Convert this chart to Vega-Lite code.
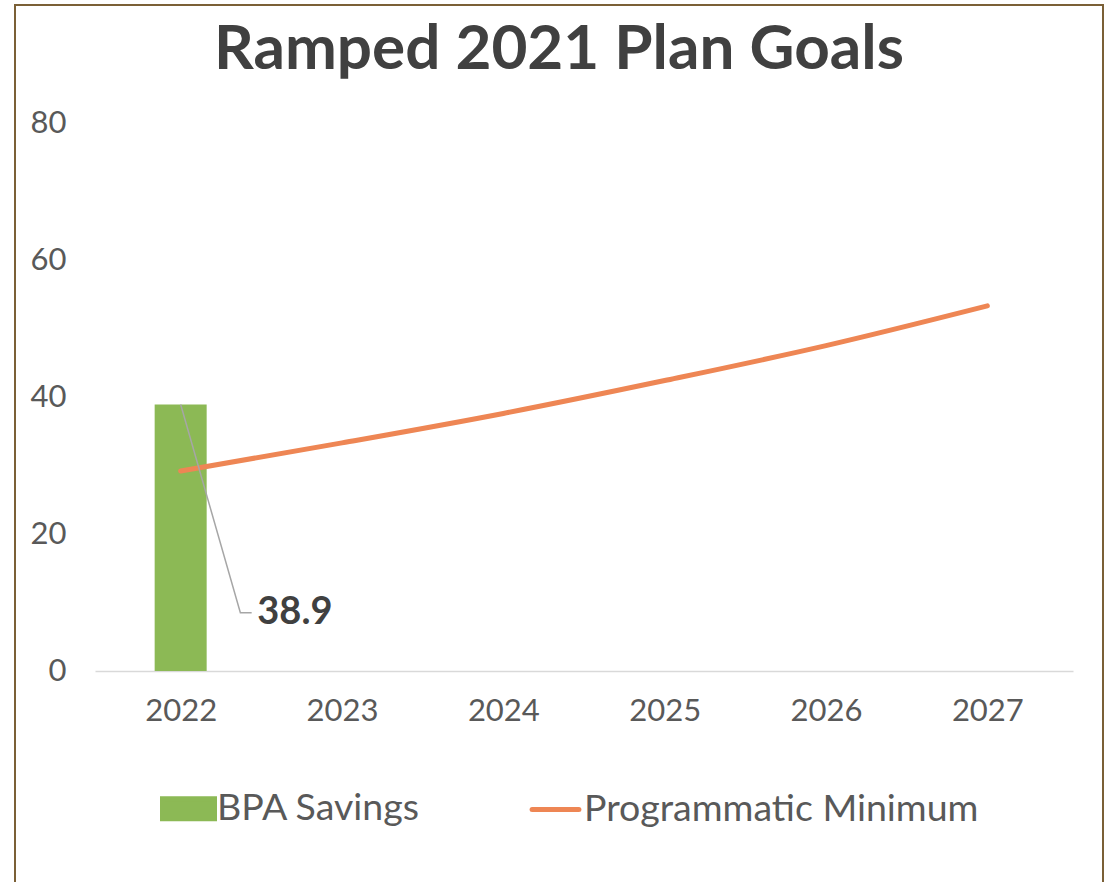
{
  "$schema": "https://vega.github.io/schema/vega-lite/v6.json",
  "width": 1088,
  "height": 880,
  "autosize": {"type": "none"},
  "padding": {"left": 15, "top": 5, "right": 6, "bottom": -3},
  "background": "#ffffff",
  "title": {
    "text": "Ramped 2021 Plan Goals",
    "font": "Lato",
    "fontSize": 62,
    "fontWeight": "bold",
    "color": "#404040",
    "anchor": "middle",
    "frame": "group",
    "baseline": "alphabetic",
    "offset": 0,
    "dy": 126
  },
  "datasets": {
    "bars": [{"year": 2022, "value": 38.9, "series": "BPA Savings"}],
    "line": [
      {"year": 2022, "value": 29.2, "series": "Programmatic Minimum"},
      {"year": 2023, "value": 33.3, "series": "Programmatic Minimum"},
      {"year": 2024, "value": 37.6, "series": "Programmatic Minimum"},
      {"year": 2025, "value": 42.4, "series": "Programmatic Minimum"},
      {"year": 2026, "value": 47.5, "series": "Programmatic Minimum"},
      {"year": 2027, "value": 53.3, "series": "Programmatic Minimum"}
    ],
    "leader": [
      {"year": 2022, "value": 38.9, "step": 1},
      {"year": 2022.37, "value": 8.5, "step": 2},
      {"year": 2022.44, "value": 8.5, "step": 3}
    ],
    "label": [{"year": 2022.475, "value": 8.4, "text": "38.9"}]
  },
  "encoding": {
    "x": {
      "field": "year",
      "type": "quantitative",
      "scale": {"type": "linear", "domain": [2021.5, 2027.5], "range": [80, 1058], "nice": false, "zero": false},
      "axis": {
        "title": null,
        "offset": -214,
        "values": [2022, 2023, 2024, 2025, 2026, 2027],
        "format": "d",
        "grid": false,
        "ticks": false,
        "domain": true,
        "domainColor": "#D9D9D9",
        "domainWidth": 1.5,
        "labelFont": "Lato",
        "labelFontSize": 31,
        "labelColor": "#595959",
        "labelPadding": 25,
        "labelFlush": false,
        "labelOverlap": false
      }
    },
    "y": {
      "field": "value",
      "type": "quantitative",
      "scale": {"domain": [0, 80], "range": [666, 118], "nice": false, "zero": true},
      "axis": {
        "title": null,
        "offset": -80,
        "values": [0, 20, 40, 60, 80],
        "grid": false,
        "ticks": false,
        "domain": false,
        "labelFont": "Lato",
        "labelFontSize": 31,
        "labelColor": "#595959",
        "labelPadding": 29,
        "labelBaseline": "middle",
        "labelFlush": false,
        "labelOverlap": false
      }
    }
  },
  "layer": [
    {
      "data": {"name": "bars"},
      "mark": {"type": "bar", "width": 52},
      "encoding": {
        "color": {
          "field": "series",
          "type": "nominal",
          "scale": {"domain": ["BPA Savings", "Programmatic Minimum"], "range": ["#8CB955", "#EE8654"]},
          "legend": {
            "orient": "none",
            "legendX": 145,
            "legendY": 775,
            "direction": "horizontal",
            "title": null,
            "labelFont": "Lato",
            "labelFontSize": 37.5,
            "labelColor": "#595959",
            "labelOffset": 0,
            "columnPadding": 101,
            "symbolSize": 2704,
            "labelLimit": 600,
            "encode": {
              "symbols": {
                "update": {
                  "shape": {"signal": "datum.value === 'BPA Savings' ? 'M-1,-0.385H1V0.385H-1Z' : 'M-0.9,0H0.9'"},
                  "fill": {"signal": "datum.value === 'BPA Savings' ? '#8CB955' : 'transparent'"},
                  "stroke": {"signal": "datum.value === 'BPA Savings' ? 'transparent' : '#EE8654'"},
                  "strokeWidth": {"value": 5},
                  "strokeCap": {"value": "round"},
                  "opacity": {"value": 1},
                  "fillOpacity": {"value": 1},
                  "strokeOpacity": {"value": 1}
                }
              }
            }
          }
        }
      }
    },
    {
      "data": {"name": "line"},
      "mark": {"type": "line", "strokeWidth": 5, "strokeCap": "round", "interpolate": "monotone"},
      "encoding": {
        "color": {"field": "series", "type": "nominal"}
      }
    },
    {
      "data": {"name": "leader"},
      "mark": {"type": "line", "color": "#A6A6A6", "strokeWidth": 1.5},
      "encoding": {
        "order": {"field": "step", "type": "quantitative"}
      }
    },
    {
      "data": {"name": "label"},
      "mark": {"type": "text", "font": "Lato", "fontSize": 38, "fontWeight": "bold", "color": "#404040", "align": "left", "baseline": "middle"},
      "encoding": {
        "text": {"field": "text", "type": "nominal"}
      }
    }
  ],
  "config": {
    "view": {"stroke": "#7B6036", "strokeWidth": 2}
  }
}
